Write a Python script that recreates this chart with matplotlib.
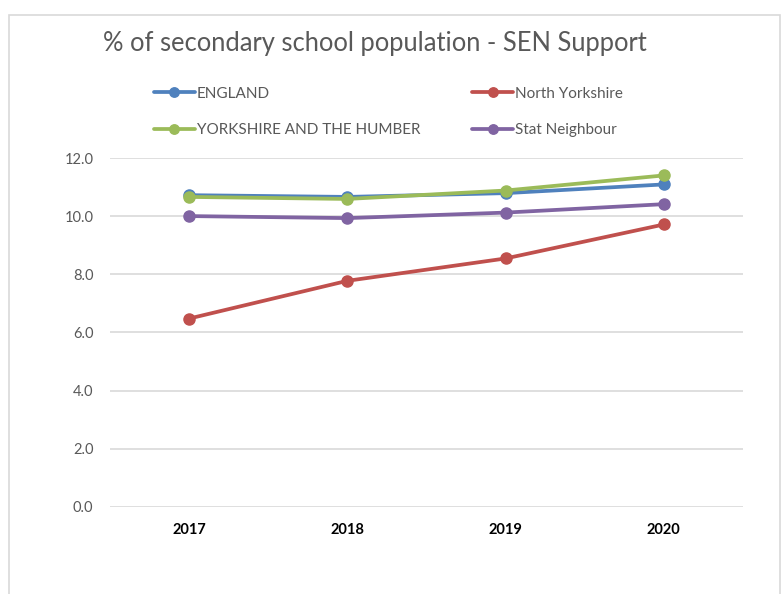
import matplotlib
matplotlib.use('Agg')
import matplotlib.pyplot as plt
from matplotlib.patches import Rectangle

plt.rcParams['font.family'] = ['Lato', 'DejaVu Sans']

years = ['2017', '2018', '2019', '2020']
england = [10.73, 10.67, 10.80, 11.10]
north_yorks = [6.48, 7.78, 8.55, 9.72]
yorks_humber = [10.67, 10.60, 10.89, 11.41]
stat_neighbour = [10.01, 9.94, 10.13, 10.42]

series = [
    ('ENGLAND', england, '#4F81BD'),
    ('North Yorkshire', north_yorks, '#C0504D'),
    ('YORKSHIRE AND THE HUMBER', yorks_humber, '#9BBB59'),
    ('Stat Neighbour', stat_neighbour, '#8064A2'),
]

fig = plt.figure(figsize=(7.82, 5.94), dpi=100)
ax = fig.add_axes([0.1407, 0.147, 0.8093, 0.5865])

# chart border (Excel style)
fig.patches.append(Rectangle((9 / 782, -0.1), 771 / 782, 1.1 - 15 / 594,
                             transform=fig.transFigure, fill=False,
                             edgecolor='#D9D9D9', linewidth=1.2))

x = range(len(years))
handles = {}
for name, vals, col in series:
    h, = ax.plot(x, vals, color=col, linewidth=2.7, marker='o', markersize=8,
                 solid_capstyle='round', label=name)
    handles[name] = h

ax.set_xlim(-0.5, 3.5)
ax.set_ylim(0, 12)
ax.set_yticks(range(0, 13, 2))
ax.set_yticklabels([f'{v:.1f}' for v in range(0, 13, 2)])
ax.set_xticks(list(x))
ax.set_xticklabels(years, fontweight='bold')
ax.grid(axis='y', color='#D9D9D9', linewidth=1.2)
ax.set_axisbelow(True)
for s in ax.spines.values():
    s.set_visible(False)
ax.tick_params(axis='y', length=0, pad=12, labelsize=10.5, labelcolor='#595959')
ax.tick_params(axis='x', length=0, pad=12, labelsize=10.5, labelcolor='black')

fig.text(375 / 782, 1 - 43 / 594, '% of secondary school population - SEN Support',
         ha='center', va='center', fontsize=18.4, color='#595959')

order = ['ENGLAND', 'YORKSHIRE AND THE HUMBER', 'North Yorkshire', 'Stat Neighbour']
fig.legend([handles[n] for n in order], order, ncol=2, frameon=False,
           loc='upper left', bbox_to_anchor=(140 / 782, 1 - 73 / 594),
           fontsize=11, labelcolor='#595959', handlelength=2.7,
           handletextpad=0.1, columnspacing=3.4, labelspacing=1.45,
           markerscale=0.85)

fig.savefig('out.png', dpi=100)
